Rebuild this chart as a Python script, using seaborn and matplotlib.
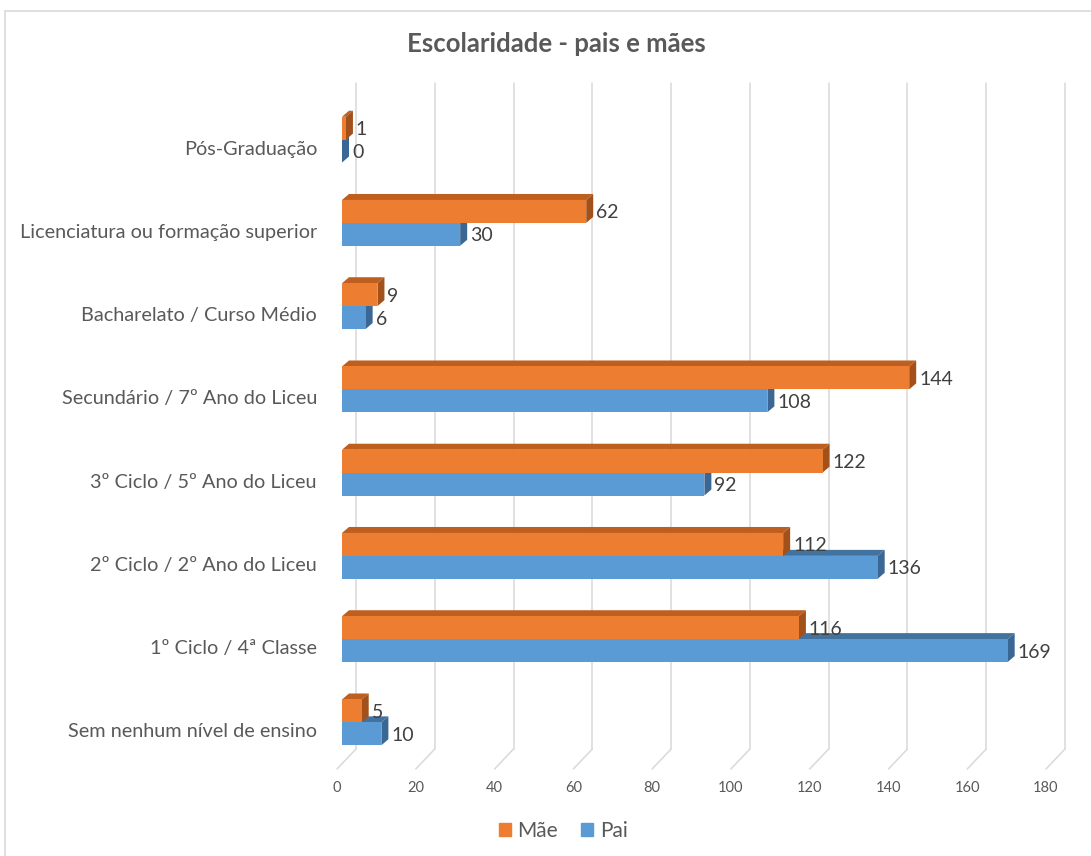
import numpy as np
import pandas as pd
import matplotlib
matplotlib.use('Agg')
import matplotlib.pyplot as plt
import seaborn as sns
from matplotlib.patches import Polygon, Rectangle, Patch
from matplotlib.transforms import ScaledTranslation, IdentityTransform
from matplotlib.lines import Line2D

# ---------------- data ----------------
categories = ['Pós-Graduação',
              'Licenciatura ou formação superior',
              'Bacharelato / Curso Médio',
              'Secundário / 7º Ano do Liceu',
              '3º Ciclo / 5º Ano do Liceu',
              '2º Ciclo / 2º Ano do Liceu',
              '1º Ciclo / 4ª Classe',
              'Sem nenhum nível de ensino']
mae = [1, 62, 9, 144, 122, 112, 116, 5]
pai = [0, 30, 6, 108, 92, 136, 169, 10]
series = ['Mãe', 'Pai']
x_ticks = [0, 20, 40, 60, 80, 100, 120, 140, 160, 180]
title = 'Escolaridade - pais e mães'

# ---------------- style ----------------
ORANGE, BLUE = '#ED7D31', '#5B9BD5'
ORANGE_TOP, ORANGE_SIDE = '#BE5F1F', '#A3511A'
BLUE_TOP, BLUE_SIDE = '#42729E', '#3A6794'
GRID = '#D9D9D9'
TXT = '#595959'

sns.set_theme(style='white')
plt.rcParams['font.family'] = ['Lato', 'DejaVu Sans']

W, H = 1091, 856
fig = plt.figure(figsize=(W / 100, H / 100), dpi=100)
ax = fig.add_axes([342 / W, 1 - 764 / H, 709 / W, 666 / H])

df = pd.DataFrame({'cat': categories * 2,
                   'serie': [series[0]] * len(categories) + [series[1]] * len(categories),
                   'val': mae + pai})
sns.barplot(data=df, y='cat', x='val', hue='serie', hue_order=series, order=categories,
            palette=[ORANGE, BLUE], width=0.55, gap=0, orient='h', ax=ax,
            legend=False, saturation=1, errorbar=None, linewidth=0)

ax.set_xlim(0, 180)
ax.set_ylim(7.5, -0.5)
for s in ax.spines.values():
    s.set_visible(False)
ax.grid(False)
ax.set_xlabel('')
ax.set_ylabel('')

# depth offsets (pixels)
BACK = (14, 15)
FRONT = (-5, -5)
BAR = (7, 6)

# back-wall gridlines
back_tr = ax.transData + ScaledTranslation(BACK[0] / 100, BACK[1] / 100, fig.dpi_scale_trans)
for v in x_ticks:
    ax.add_line(Line2D([v, v], [7.5, -0.5], transform=back_tr, color=GRID, lw=1.1,
                       clip_on=False, zorder=0))
    p = ax.transData.transform((v, 7.5))
    ax.add_line(Line2D([p[0] + BACK[0], p[0] + FRONT[0]], [p[1] + BACK[1], p[1] + FRONT[1]],
                       transform=IdentityTransform(), color=GRID, lw=1.1, clip_on=False, zorder=0))

# 3D faces on the bars
n = len(categories)
bars = list(ax.patches)
for i, p in enumerate(bars):
    is_mae = i < n
    base_z = 3 if is_mae else 2
    top_c, side_c = (ORANGE_TOP, ORANGE_SIDE) if is_mae else (BLUE_TOP, BLUE_SIDE)
    p.set_zorder(base_z + 0.5)
    bb = p.get_bbox()
    x0, x1 = bb.x0, bb.x1
    ytop, ybot = min(bb.y0, bb.y1), max(bb.y0, bb.y1)
    TL = ax.transData.transform((x0, ytop))
    TR = ax.transData.transform((x1, ytop))
    BR = ax.transData.transform((x1, ybot))
    d = np.array(BAR)
    top = Polygon([TL, TR, TR + d, TL + d], closed=True, transform=IdentityTransform(),
                  facecolor=top_c, edgecolor='none', zorder=base_z, clip_on=False)
    side = Polygon([TR, BR, BR + d, TR + d], closed=True, transform=IdentityTransform(),
                   facecolor=side_c, edgecolor='none', zorder=base_z, clip_on=False)
    ax.add_patch(top)
    ax.add_patch(side)
    val = (mae + pai)[i]
    ax.annotate(f'{val}', xy=(x1, (ytop + ybot) / 2), xytext=(10 * 0.72, -1.5 * 0.72),
                textcoords='offset points', ha='left', va='center', fontsize=14,
                color='#404040', zorder=6)

# ticks
ax.set_yticks(range(n))
ax.set_yticklabels(categories)
ax.tick_params(axis='y', length=0, pad=18, labelsize=14.3, labelcolor=TXT)
for lab in ax.get_yticklabels():
    lab.set_transform(lab.get_transform() + ScaledTranslation(0, -8 / 100, fig.dpi_scale_trans))
ax.set_xticks(x_ticks)
ax.set_xticklabels([str(t) for t in x_ticks])
ax.tick_params(axis='x', length=0, pad=12, labelsize=10.5, labelcolor=TXT)
for lab in ax.get_xticklabels():
    lab.set_transform(lab.get_transform() + ScaledTranslation(-5 / 100, 0, fig.dpi_scale_trans))

# title, legend, border
fig.text(556 / W, 1 - 44 / H, title, ha='center', va='center', fontsize=18.5,
         fontweight='bold', color=TXT)
fig.legend(handles=[Patch(color=ORANGE, label=series[0]), Patch(color=BLUE, label=series[1])],
           loc='center', bbox_to_anchor=(563 / W, 1 - 831 / H), ncol=2, frameon=False,
           fontsize=15, handlelength=0.6, handleheight=0.6, handletextpad=0.3,
           columnspacing=1.1, labelcolor=TXT)
fig.patches.append(Rectangle((5 / W, -0.05), 1.1, 1 - 11 / H + 0.05, transform=fig.transFigure,
                             fill=False, edgecolor=GRID, lw=1.2))

fig.savefig('out.png', dpi=100)
